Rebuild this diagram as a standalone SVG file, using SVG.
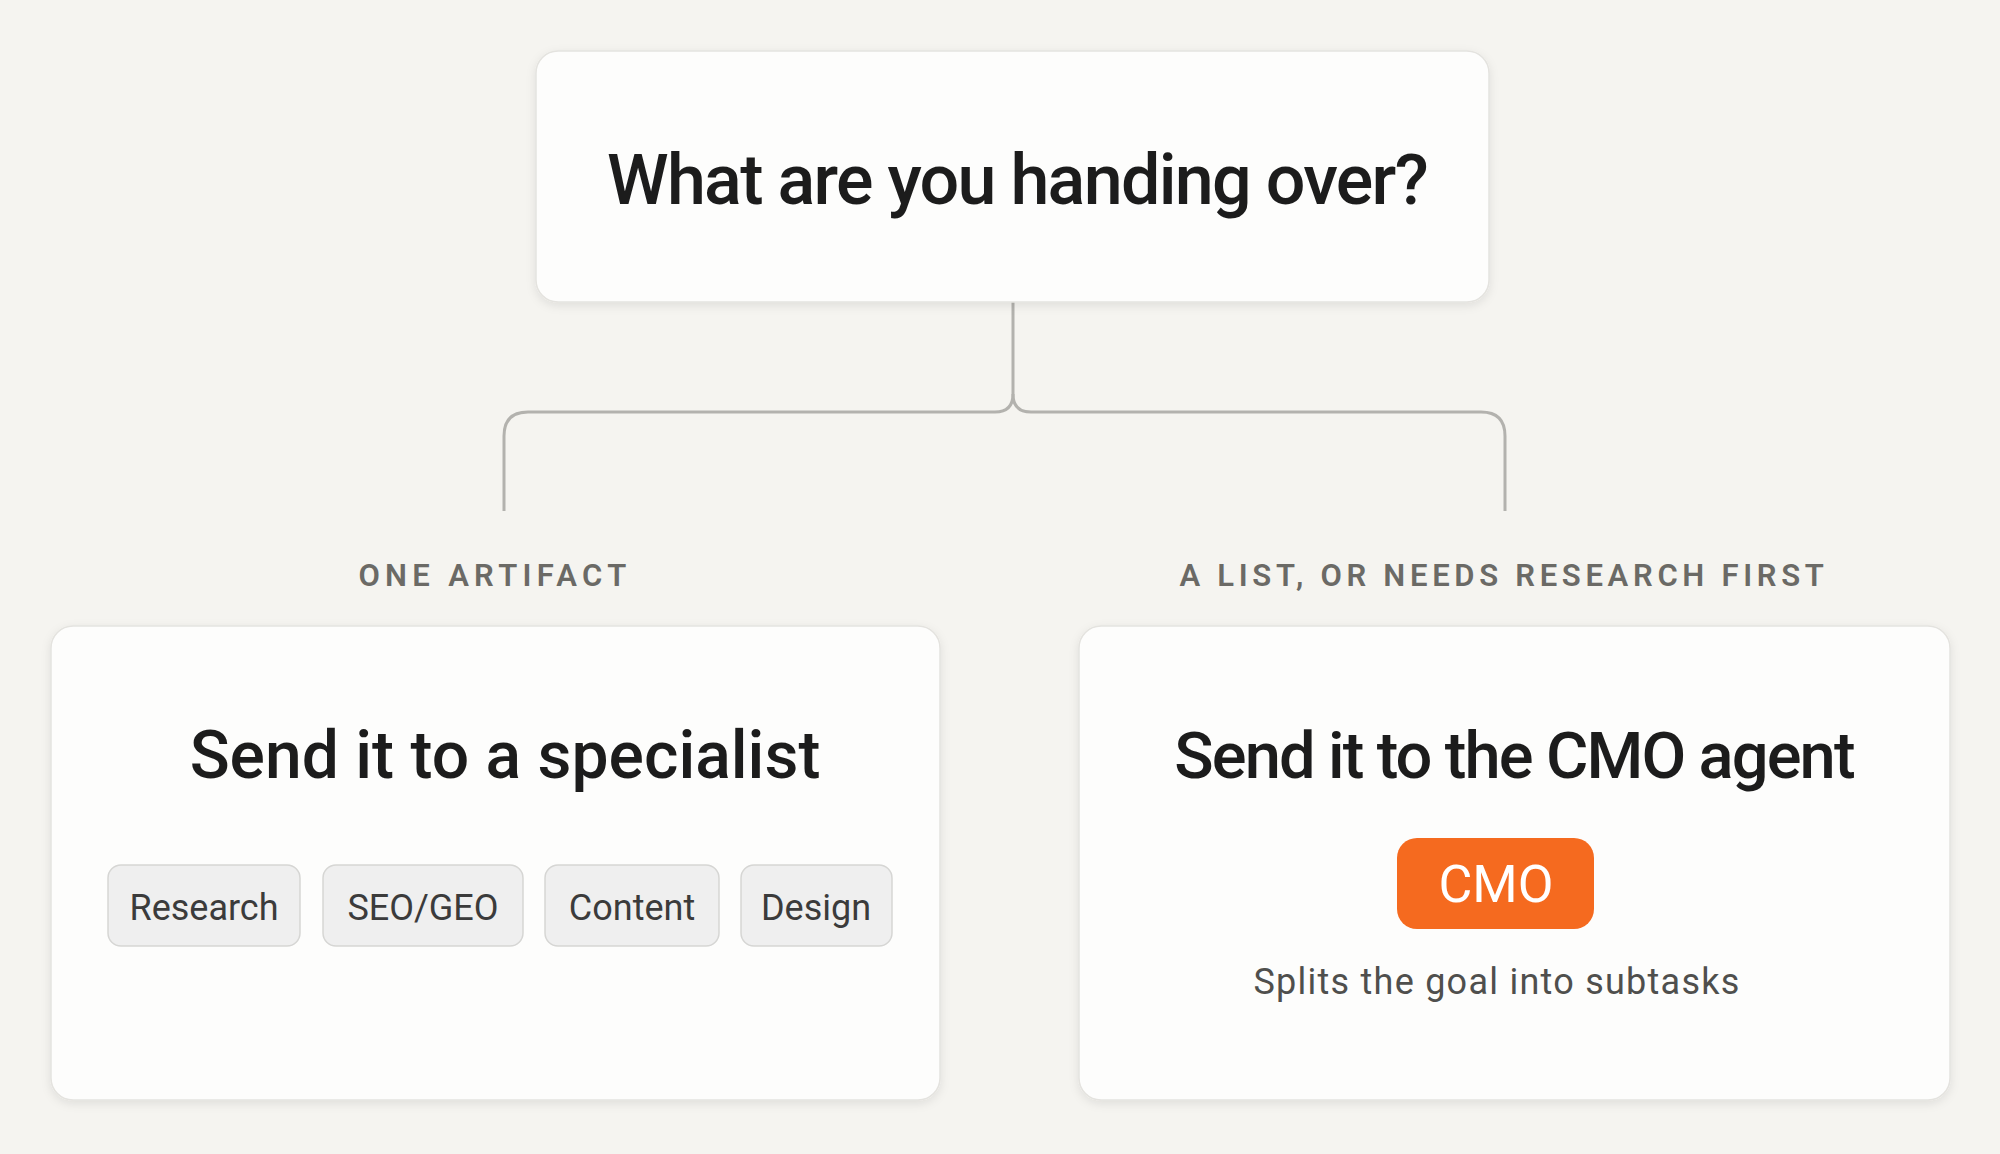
<svg xmlns="http://www.w3.org/2000/svg" width="2000" height="1154" viewBox="0 0 2000 1154">
  <defs>
    <filter id="shadow" x="-10%" y="-10%" width="120%" height="130%">
      <feDropShadow dx="0" dy="3" stdDeviation="5" flood-color="#000" flood-opacity="0.09"/>
    </filter>
  </defs>
  <style>
    .card { fill: #fdfdfc; stroke: #e4e3df; stroke-width: 1.5; filter: url(#shadow); }
    .title { font-family: Roboto, "Liberation Sans", sans-serif; font-weight: 500; fill: #1c1c1c; text-anchor: middle; }
    .label { font-family: Roboto, "Liberation Sans", sans-serif; font-weight: 600; font-size: 31px; fill: #6b6a66; text-anchor: middle; }
    .chip { fill: #efefef; stroke: #d6d6d4; stroke-width: 1.5; }
    .chiptext { font-family: Roboto, "Liberation Sans", sans-serif; font-size: 36px; fill: #3b3b3b; text-anchor: middle; }
    .conn { fill: none; stroke: #b3b2ae; stroke-width: 3; }
  </style>
  <rect width="2000" height="1154" fill="#f5f4f0"/>

  <g id="connectors">
    <path class="conn" d="M1013 302 V394 Q1013 412 995 412 H528 Q504 412 504 436 V511"/>
    <path class="conn" d="M1013 394 Q1013 412 1031 412 H1481 Q1505 412 1505 436 V511"/>
  </g>

  <g id="question">
    <rect class="card" x="536" y="51" width="953" height="251" rx="22"/>
    <text class="title" x="1017" y="204" font-size="70" letter-spacing="-1.7">What are you handing over?</text>
  </g>

  <g id="label-one">
    <text class="label" x="495" y="586" letter-spacing="5.3">ONE ARTIFACT</text>
  </g>
  <g id="label-list">
    <text class="label" x="1504" y="586" letter-spacing="4.7">A LIST, OR NEEDS RESEARCH FIRST</text>
  </g>

  <g id="specialist">
    <rect class="card" x="51" y="626" width="889" height="474" rx="22"/>
    <text class="title" x="505" y="778" font-size="66">Send it to a specialist</text>
    <g id="chip-research">
      <rect class="chip" x="108" y="865" width="192" height="81" rx="13"/>
      <text class="chiptext" x="204" y="920">Research</text>
    </g>
    <g id="chip-seo">
      <rect class="chip" x="323" y="865" width="200" height="81" rx="13"/>
      <text class="chiptext" x="423" y="920">SEO/GEO</text>
    </g>
    <g id="chip-content">
      <rect class="chip" x="545" y="865" width="174" height="81" rx="13"/>
      <text class="chiptext" x="632" y="920">Content</text>
    </g>
    <g id="chip-design">
      <rect class="chip" x="741" y="865" width="151" height="81" rx="13"/>
      <text class="chiptext" x="816" y="920">Design</text>
    </g>
  </g>

  <g id="cmo-agent">
    <rect class="card" x="1079" y="626" width="871" height="474" rx="22"/>
    <text class="title" x="1514" y="778" font-size="65" letter-spacing="-1.9">Send it to the CMO agent</text>
    <g id="cmo-badge">
      <rect x="1397" y="838" width="197" height="91" rx="20" fill="#f56a1f"/>
      <text x="1496" y="902" font-family="Roboto, 'Liberation Sans', sans-serif" font-size="52" fill="#ffffff" text-anchor="middle">CMO</text>
    </g>
    <text x="1497" y="994" font-family="Roboto, 'Liberation Sans', sans-serif" font-size="36" fill="#4f4f4d" text-anchor="middle" letter-spacing="1.25">Splits the goal into subtasks</text>
  </g>
</svg>
